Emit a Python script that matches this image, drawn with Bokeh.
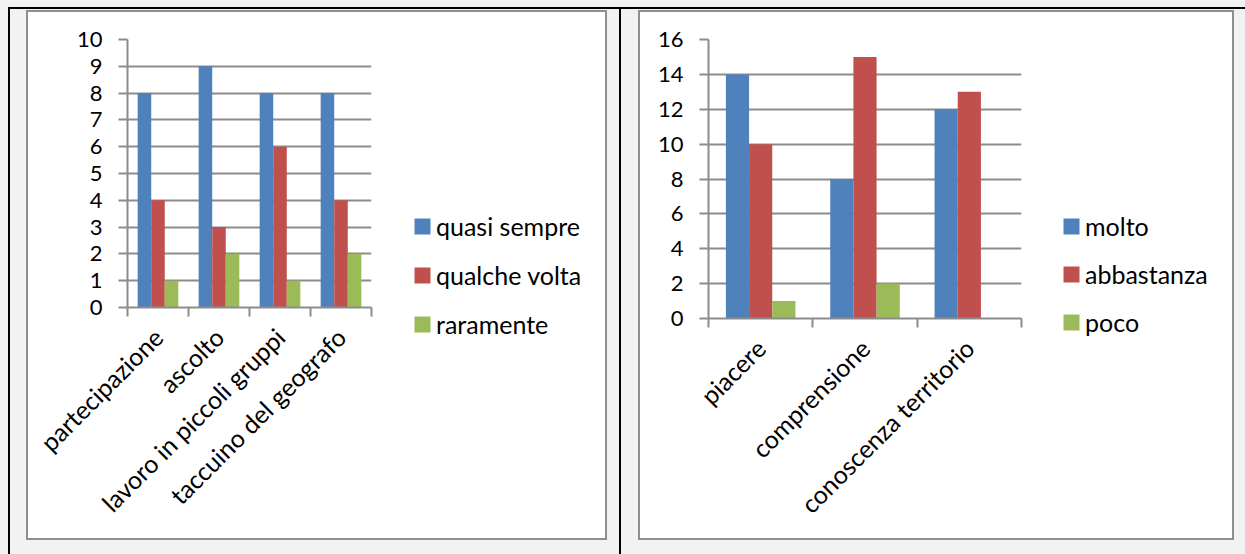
import math
from bokeh.plotting import figure
from bokeh.models import (Range1d, FixedTicker, Legend, LegendItem, Spacer, ColumnDataSource)
from bokeh.layouts import row, column
from bokeh.embed import file_html
from bokeh.resources import INLINE

# ---------------- data ----------------
left_categories = ["partecipazione", "ascolto", "lavoro in piccoli gruppi", "taccuino del geografo"]
left_series_names = ["quasi sempre", "qualche volta", "raramente"]
quasi_sempre = [8, 9, 8, 8]
qualche_volta = [4, 3, 6, 4]
raramente = [1, 2, 1, 2]
left_y_ticks = [0, 1, 2, 3, 4, 5, 6, 7, 8, 9, 10]

right_categories = ["piacere", "comprensione", "conoscenza territorio"]
right_series_names = ["molto", "abbastanza", "poco"]
molto = [14, 8, 12]
abbastanza = [10, 15, 13]
poco = [1, 2, 0]
right_y_ticks = [0, 2, 4, 6, 8, 10, 12, 14, 16]

colors = ["#4F81BD", "#C0504D", "#9BBB59"]

FONT = "Lato"
FS_NUM = "22px"
FS_TXT = "25px"
GRID = "#8c8c8c"
PAGE = "#f2f2f2"
FRAME = "#8e8e8e"
BW = 1.0 / 4.5


def add_bars(p, series, n):
    rs = []
    for k, vals in enumerate(series):
        xs = [i + 0.5 + (k - 1) * BW for i in range(n)]
        src = ColumnDataSource(dict(x=xs, top=vals))
        rs.append(p.vbar(x="x", top="top", width=BW, bottom=0, source=src,
                         fill_color=colors[k], line_color=None))
    return rs


def make_chart(categories, series, yticks, w, h, mb_left, frame_w, mb_top, frame_h):
    n = len(categories)
    p = figure(width=w, height=h, output_backend="svg", toolbar_location=None,
               x_range=Range1d(0, n), y_range=Range1d(yticks[0], yticks[-1]),
               min_border_left=mb_left, min_border_right=w - mb_left - frame_w,
               min_border_top=mb_top, min_border_bottom=h - mb_top - frame_h)
    p.border_fill_color = "white"
    p.background_fill_color = "white"
    p.outline_line_color = None
    add_bars(p, series, n)

    # x axis: labels at category centres, ticks at category boundaries
    xa = p.xaxis[0]
    xa.ticker = FixedTicker(ticks=[i + 0.5 for i in range(n)], minor_ticks=list(range(n + 1)))
    xa.major_label_overrides = {i + 0.5: c for i, c in enumerate(categories)}
    xa.major_tick_line_color = None
    xa.minor_tick_line_color = GRID
    xa.minor_tick_line_width = 2
    xa.minor_tick_out = 9
    xa.minor_tick_in = 0
    xa.axis_line_color = GRID
    xa.axis_line_width = 2
    xa.major_label_orientation = math.pi / 4
    xa.major_label_text_font = FONT
    xa.major_label_text_font_size = FS_TXT
    xa.major_label_text_color = "black"
    xa.major_label_standoff = 16

    ya = p.yaxis[0]
    ya.ticker = FixedTicker(ticks=yticks, minor_ticks=[])
    ya.major_tick_line_color = GRID
    ya.major_tick_line_width = 2
    ya.major_tick_out = 9
    ya.major_tick_in = 0
    ya.minor_tick_line_color = None
    ya.axis_line_color = GRID
    ya.axis_line_width = 2
    ya.major_label_text_font = FONT
    ya.major_label_text_font_size = FS_NUM
    ya.major_label_text_color = "black"
    ya.major_label_standoff = 16

    p.xgrid.visible = False
    p.ygrid.ticker = FixedTicker(ticks=yticks)
    p.ygrid.grid_line_color = GRID
    p.ygrid.grid_line_width = 2
    return p


def sp(w, h, color):
    return Spacer(width=w, height=h, styles={"background-color": color})


def make_legend(names, series, n, w, h, left, top, lh, spacing):
    # legend panel: same series drawn off-range, only the legend is visible
    lp = figure(width=w, height=lh, output_backend="svg", toolbar_location=None,
                x_range=Range1d(-3, -2), y_range=Range1d(0, 1),
                x_axis_location=None, y_axis_location=None,
                min_border_left=left, min_border_top=0, min_border_right=0, min_border_bottom=0)
    lp.border_fill_color = "white"
    lp.background_fill_color = "white"
    lp.outline_line_color = None
    lp.xgrid.visible = False
    lp.ygrid.visible = False
    rs = add_bars(lp, series, n)
    items = [LegendItem(label=name, renderers=[r]) for name, r in zip(names, rs)]
    leg = Legend(items=items, location="top_left")
    leg.glyph_width = 20
    leg.glyph_height = 20
    leg.label_standoff = 4
    leg.label_text_font = FONT
    leg.label_text_font_size = FS_TXT
    leg.label_text_color = "black"
    leg.spacing = spacing
    leg.padding = 0
    leg.margin = 0
    leg.border_line_color = None
    leg.background_fill_alpha = 0
    lp.add_layout(leg, "center")
    return column(sp(w, top, "white"), lp, sp(w, h - top - lh, "white"),
                  styles={"background-color": "white"})


left_series = [quasi_sempre, qualche_volta, raramente]
right_series = [molto, abbastanza, poco]

p1 = make_chart(left_categories, left_series, left_y_ticks, 363, 526, 99, 244, 27, 268)
l1 = make_legend(left_series_names, left_series, len(left_categories), 577 - 363, 526, 21, 199, 150, 19)
p2 = make_chart(right_categories, right_series, right_y_ticks, 401, 526, 68, 313, 27, 279)
l2 = make_legend(right_series_names, right_series, len(right_categories), 592 - 401, 526, 20, 199, 150, 18)


def framed(p, lg, w, h):
    inner = row(sp(2, h, FRAME), p, lg, sp(2, h, FRAME), styles={"background-color": "white"})
    return column(sp(w + 4, 1, PAGE), sp(w + 4, 2, FRAME), inner, sp(w + 4, 2, FRAME),
                  sp(w + 4, 545 - 1 - 2 - h - 2, PAGE))


BH = 545
body = row(
    sp(8, BH, PAGE), sp(2, BH, "black"), sp(16, BH, PAGE),
    framed(p1, l1, 577, 526),
    sp(12, BH, PAGE), sp(2, BH, "black"), sp(17, BH, PAGE),
    framed(p2, l2, 592, 526),
    sp(11, BH, PAGE),
)
top = column(sp(1245, 7, PAGE), row(sp(8, 2, PAGE), sp(1237, 2, "black")))
layout = column(top, body, styles={"background-color": PAGE})

open("out.html", "w").write(file_html(layout, INLINE))
